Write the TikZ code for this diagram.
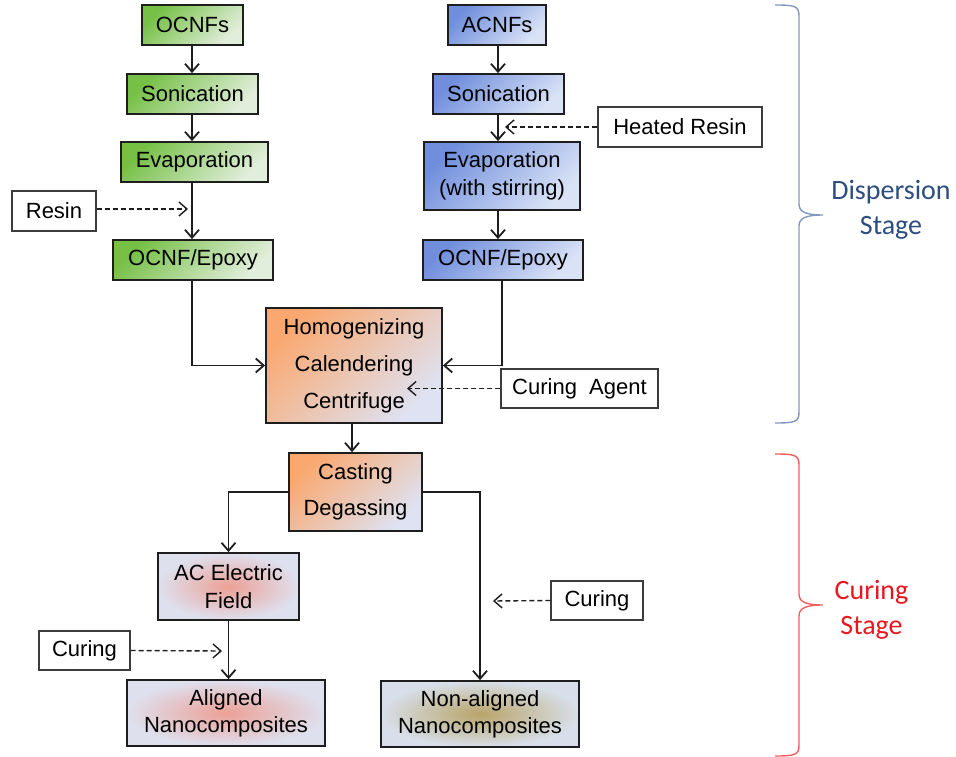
\documentclass[tikz,border=0pt]{standalone}
\usepackage{fontspec}
\setmainfont{Liberation Sans}
\newfontfamily\calib{Carlito}
\usetikzlibrary{arrows.meta}
\definecolor{gA}{RGB}{118,192,70}
\definecolor{gM}{RGB}{160,210,120}
\definecolor{gB}{RGB}{226,238,220}
\definecolor{bA}{RGB}{112,142,220}
\definecolor{bM}{RGB}{160,182,232}
\definecolor{bB}{RGB}{218,227,246}
\definecolor{oA}{RGB}{250,168,112}
\definecolor{oM}{RGB}{242,200,170}
\definecolor{oB}{RGB}{222,226,242}
\definecolor{rIn}{RGB}{236,160,150}
\definecolor{rOut}{RGB}{222,224,238}
\definecolor{yIn}{RGB}{184,164,104}
\definecolor{yOut}{RGB}{216,223,234}
\definecolor{boxline}{RGB}{30,30,30}
\definecolor{sideline}{RGB}{60,60,60}
\definecolor{linec}{RGB}{30,30,30}
\definecolor{dispblue}{RGB}{44,77,128}
\definecolor{bracebl}{RGB}{128,153,190}
\definecolor{curred}{RGB}{232,22,30}
\definecolor{bracerd}{RGB}{240,95,95}
\begin{document}
\begin{tikzpicture}[x=1pt,y=-1pt,
  box/.style={draw=boxline, line width=1.8pt, inner sep=0pt, align=center,
    font=\fontsize{22}{28}\selectfont, text=black},
  gbox/.style={box, top color=gA, middle color=gM, bottom color=gB, shading angle=45},
  bbox/.style={box, top color=bA, middle color=bM, bottom color=bB, shading angle=45},
  obox/.style={box, top color=oA, middle color=oM, bottom color=oB, shading angle=45},
  rbox/.style={box, inner color=rIn, outer color=rOut},
  ybox/.style={box, inner color=yIn, outer color=yOut},
  side/.style={draw=sideline, line width=1.1pt, fill=white, inner sep=0pt,
    align=center, font=\fontsize{22}{28}\selectfont, text=black},
  conn/.style={line width=1.8pt, draw=linec, -{Straight Barb[length=8pt,width=14pt]}},
  dconn/.style={conn, line width=1.4pt, dash pattern=on 5pt off 3pt},
  stage/.style={align=center, font=\calib\fontsize{28}{35}\selectfont, inner sep=0pt}
]
\useasboundingbox (0,0) rectangle (956,757);

% column reference coordinates
\coordinate (Lx) at (192,0);
\coordinate (Rx) at (498,0);
\coordinate (Rx2) at (502,0);
\coordinate (Mx) at (352,0);

% left column
\node[gbox, minimum width=101, minimum height=40] (ocnfs) at (192.5,25) {OCNFs};
\node[gbox, minimum width=131, minimum height=40] (sonL) at (192.5,94) {Sonication};
\node[gbox, minimum width=147, minimum height=40] (evapL) at (194.5,162) {Evaporation};
\node[side, minimum width=84, minimum height=40] (resin) at (54,211) {Resin};
\node[gbox, minimum width=160, minimum height=40] (epoxyL) at (193,260) {OCNF/Epoxy};

% right column
\node[bbox, minimum width=98, minimum height=40] (acnfs) at (497,25) {ACNFs};
\node[bbox, minimum width=131, minimum height=40] (sonR) at (498.5,94) {Sonication};
\node[side, minimum width=164, minimum height=40] (heated) at (680,127) {Heated Resin};
\node[bbox, minimum width=156, minimum height=68] (evapR) at (502,176) {Evaporation\\(with stirring)};
\node[bbox, minimum width=160, minimum height=40] (epoxyR) at (503,260) {OCNF/Epoxy};

% middle
\node[obox, minimum width=176, minimum height=115, font=\fontsize{22}{37}\selectfont] (homog) at (354,365.5) {Homogenizing\\Calendering\\Centrifuge};
\node[side, minimum width=157, minimum height=39] (curagent) at (579.5,388.5) {Curing\ \ Agent};
\node[obox, minimum width=133, minimum height=78, font=\fontsize{22}{36}\selectfont] (casting) at (355.5,492) {Casting\\Degassing};

% lower
\node[rbox, minimum width=141, minimum height=67] (acfield) at (228.5,586.5) {AC Electric\\Field};
\node[side, minimum width=91, minimum height=39] (curL) at (84.5,650.5) {Curing};
\node[rbox, minimum width=198, minimum height=66, font=\fontsize{22}{27}\selectfont] (aligned) at (226,713) {Aligned\\Nanocomposites};
\node[side, minimum width=92, minimum height=39] (curR) at (597,600.5) {Curing};
\node[ybox, minimum width=198, minimum height=66, font=\fontsize{22}{27}\selectfont] (nonal) at (480,714) {Non-aligned\\Nanocomposites};

% dashed arrow tips
\coordinate (tipResin) at (188,209);
\coordinate (tipHeated) at (505,127);
\coordinate (tipAgent) at (407,388.5);
\coordinate (tipCurL) at (222,651);
\coordinate (tipCurR) at (493,601);

% left column connectors
\draw[conn] (ocnfs.south -| Lx) -- (sonL.north -| Lx);
\draw[conn] (sonL.south -| Lx) -- (evapL.north -| Lx);
\draw[conn] (evapL.south -| Lx) -- (epoxyL.north -| Lx);
\draw[dconn] (resin.east |- tipResin) -- (tipResin);

% right column connectors
\draw[conn] (acnfs.south -| Rx) -- (sonR.north -| Rx);
\draw[conn] (sonR.south -| Rx) -- (evapR.north -| Rx);
\draw[conn] (evapR.south -| Rx) -- (epoxyR.north -| Rx);
\draw[dconn] (heated.west) -- (tipHeated);

% merge
\draw[conn] (epoxyL.south -| Lx) |- (homog.west);
\draw[conn] (epoxyR.south -| Rx2) |- (homog.east);
\draw[dconn] (curagent.west) -- (tipAgent);
\draw[conn] (homog.south -| Mx) -- (casting.north -| Mx);

% branches
\draw[conn] (casting.west) -| (acfield.north);
\draw[conn] (casting.east) -| (nonal.north);
\draw[conn] (acfield.south) -- (acfield.south |- aligned.north);
\draw[dconn] (curL.east) -- (tipCurL);
\draw[dconn] (curR.west) -- (tipCurR);

% braces
\draw[bracebl, line width=1.4pt] (775,5) .. controls (795,5) and (799,6) .. (799,16)
  -- (799,204) .. controls (799,212) and (806,215) .. (823,215)
  .. controls (806,215) and (799,218) .. (799,226)
  -- (799,412) .. controls (799,422) and (795,423) .. (775,423);
\draw[bracerd, line width=1.4pt] (775,454) .. controls (795,454) and (799,455) .. (799,465)
  -- (799,594) .. controls (799,602) and (806,605) .. (823,605)
  .. controls (806,605) and (799,608) .. (799,616)
  -- (799,745) .. controls (799,755) and (795,756) .. (775,756);

\node[stage, text=dispblue] (disp) at (891,209.5) {Dispersion\\Stage};
\node[stage, text=curred] (cur) at (871.5,610) {Curing\\Stage};
\end{tikzpicture}
\end{document}
